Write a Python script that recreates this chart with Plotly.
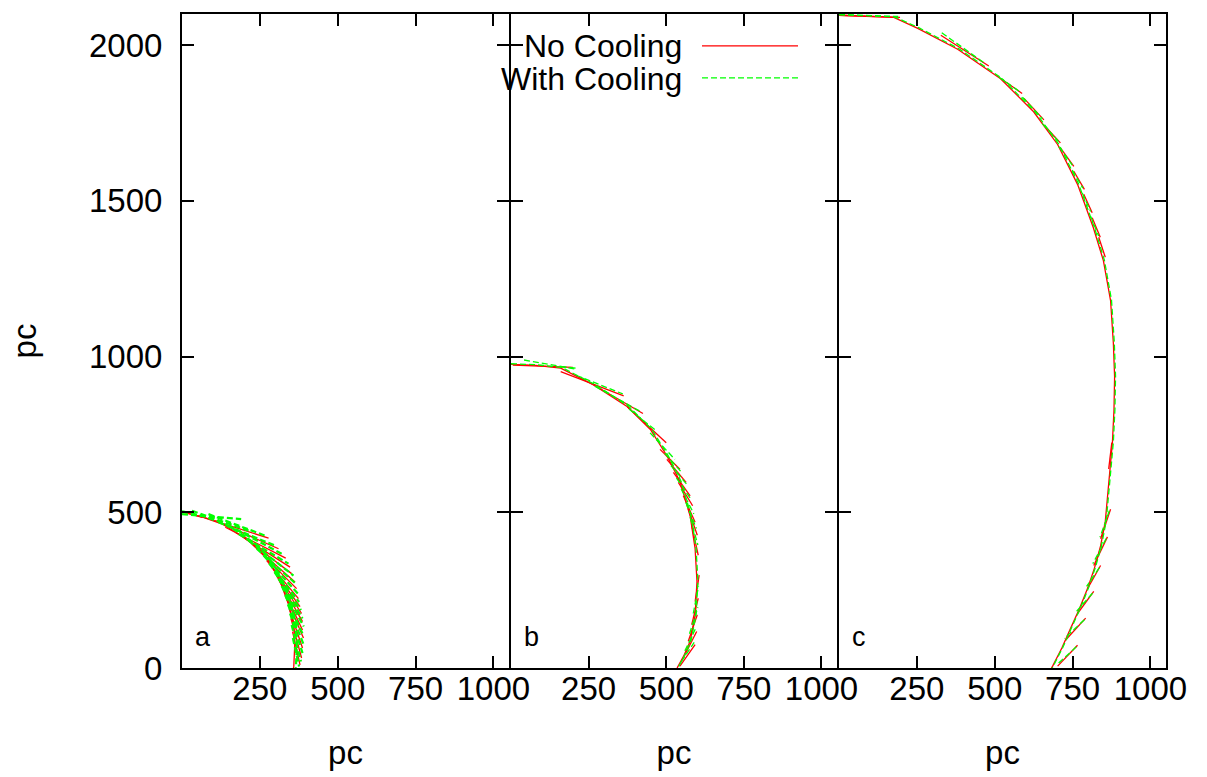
import plotly.graph_objects as go

# ---------------- data (pc) ----------------
x_ticks = [250, 500, 750, 1000]
y_ticks = [0, 500, 1000, 1500, 2000]
panel_labels = ["a", "b", "c"]
series_names = ["No Cooling", "With Cooling"]

# panel a : shell outline + fragments
a_red_arc_x = [0, 64, 128, 192, 247, 288, 320, 343, 359, 362, 359, 358]
a_red_arc_y = [501, 485, 463, 424, 383, 329, 265, 201, 137, 73, 6, 0]
a_grn_arc_x = [0, 66, 131, 196, 252, 294, 327, 350, 366, 369, 366, 365]
a_grn_arc_y = [503, 488, 466, 427, 386, 332, 268, 203, 139, 75, 8, 0]
a_red_seg = [(11, 500, 64, 484), (53, 489, 278, 417), (107, 473, 310, 383), (139, 452, 333, 353),
             (171, 436, 347, 324), (198, 420, 352, 303), (224, 398, 363, 276), (251, 372, 368, 255),
             (272, 345, 374, 223), (288, 324, 379, 197), (304, 297, 384, 175), (315, 276, 387, 149),
             (326, 250, 387, 122), (336, 223, 390, 96), (344, 191, 387, 64), (350, 159, 384, 32),
             (355, 117, 379, 10)]
a_grn_seg = [(0, 494, 190, 478), (32, 505, 214, 441), (85, 494, 267, 425), (117, 468, 299, 393),
             (150, 457, 320, 367), (182, 430, 342, 335), (214, 409, 358, 297), (240, 383, 365, 271),
             (262, 361, 372, 239), (280, 335, 376, 212), (297, 308, 382, 186), (310, 287, 387, 159),
             (320, 263, 391, 133), (331, 234, 389, 106), (340, 204, 391, 74), (347, 175, 387, 48),
             (352, 138, 382, 21), (356, 96, 376, 5)]

# panel b : shell outline + fragments
b_red_arc_x = [0, 80, 160, 266, 375, 449, 503, 545, 577, 593, 599, 593, 577, 556, 535]
b_red_arc_y = [975, 972, 963, 909, 839, 766, 680, 597, 488, 383, 278, 169, 86, 38, 0]
b_grn_arc_x = [0, 82, 163, 269, 378, 452, 506, 548, 580, 596, 602, 596, 580, 559, 538]
b_grn_arc_y = [977, 974, 965, 911, 841, 768, 682, 599, 490, 385, 280, 171, 88, 40, 0]
b_red_seg = [(6, 973, 199, 965), (160, 952, 363, 874), (256, 915, 425, 817), (374, 840, 500, 723),
             (480, 702, 544, 638), (502, 670, 564, 596), (523, 628, 577, 553), (539, 596, 585, 521),
             (555, 553, 593, 468), (571, 511, 600, 426), (582, 458, 603, 362), (544, 6, 593, 75),
             (555, 32, 598, 117), (571, 86, 600, 171), (582, 139, 603, 224), (593, 213, 606, 298)]
b_grn_seg = [(42, 989, 208, 960), (160, 968, 208, 963), (210, 940, 360, 880), (270, 905, 420, 822),
             (380, 832, 470, 760), (448, 755, 528, 670), (495, 690, 548, 630), (515, 650, 570, 585),
             (533, 610, 581, 540), (548, 575, 589, 495), (563, 532, 597, 448), (577, 485, 602, 395),
             (548, 20, 590, 82), (560, 55, 596, 130), (575, 110, 602, 195), (587, 175, 604, 262)]

# panel c : shell outline + fragments
c_red_arc_x = [0, 176, 253, 381, 519, 625, 702, 766, 817, 849, 872, 881, 885, 883, 878, 868,
               855, 840, 820, 798, 772, 744, 716, 686, 682]
c_red_arc_y = [2096, 2089, 2054, 1987, 1892, 1786, 1681, 1553, 1413, 1308, 1180, 1043, 935, 829,
               724, 620, 470, 392, 320, 255, 190, 128, 65, 6, 0]
c_grn_arc_x = [0, 178, 256, 384, 522, 628, 705, 769, 820, 852, 875, 884, 888, 886, 881, 871,
               858, 843, 823, 801, 775, 747, 719, 689, 685]
c_grn_arc_y = [2098, 2091, 2056, 1989, 1894, 1788, 1683, 1555, 1415, 1310, 1182, 1045, 937, 831,
               726, 622, 472, 394, 322, 257, 192, 130, 67, 8, 0]
c_red_seg = [(0, 2096, 196, 2089), (327, 2032, 481, 1933), (519, 1893, 588, 1845), (594, 1829, 658, 1760),
             (658, 1744, 711, 1686), (711, 1670, 754, 1611), (754, 1595, 788, 1537), (786, 1521, 813, 1462),
             (813, 1446, 839, 1383), (834, 1383, 855, 1319), (876, 724, 866, 639), (872, 510, 840, 415),
             (862, 421, 818, 329), (840, 329, 798, 255), (818, 246, 766, 175), (792, 160, 727, 89),
             (766, 73, 702, 6)]
c_grn_seg = [(0, 2098, 190, 2092), (330, 2040, 470, 1940), (514, 1897, 583, 1849), (589, 1833, 653, 1764),
             (653, 1748, 706, 1690), (706, 1674, 749, 1615), (749, 1599, 783, 1541), (781, 1525, 808, 1466),
             (808, 1450, 834, 1387), (868, 505, 838, 420), (858, 416, 815, 335), (836, 322, 795, 262),
             (814, 240, 763, 182), (788, 155, 724, 95), (762, 68, 699, 10)]

# ---------------- helpers ----------------
def seg_xy(arc_x, arc_y, segs):
    xs, ys = list(arc_x) + [None], list(arc_y) + [None]
    for x1, y1, x2, y2 in segs:
        xs += [x1, x2, None]
        ys += [y1, y2, None]
    return xs, ys

panels = [
    (a_red_arc_x, a_red_arc_y, a_red_seg, a_grn_arc_x, a_grn_arc_y, a_grn_seg),
    (b_red_arc_x, b_red_arc_y, b_red_seg, b_grn_arc_x, b_grn_arc_y, b_grn_seg),
    (c_red_arc_x, c_red_arc_y, c_red_seg, c_grn_arc_x, c_grn_arc_y, c_grn_seg),
]

W, H = 1207, 777
L, R, T, B = 182, 1166, 13, 669
pw = (R - L)
ph = (B - T)

fig = go.Figure()
FONT = "Liberation Sans, Arial, sans-serif"
FS = 33
RED = "#ff0000"
GRN = "#00ff00"

# pixel borders of the three panels (2px gap so shared frame lines coincide)
dom_px = [(182, 509), (511, 837), (839, 1166)]
for i, (rx, ry, rs, gx, gy, gs) in enumerate(panels):
    xa = "x" if i == 0 else f"x{i+1}"
    ya = "y" if i == 0 else f"y{i+1}"
    x, y = seg_xy(rx, ry, rs)
    fig.add_trace(go.Scatter(x=x, y=y, mode="lines", xaxis=xa, yaxis=ya,
                             line=dict(color=RED, width=1.3),
                             name=series_names[0], showlegend=False, hoverinfo="skip"))
    x, y = seg_xy(gx, gy, gs)
    fig.add_trace(go.Scatter(x=x, y=y, mode="lines", xaxis=xa, yaxis=ya,
                             line=dict(color=GRN, width=1.3 if i else 2.2, dash="6px,3px"),
                             name=series_names[1], showlegend=False, hoverinfo="skip"))

layout = dict(
    width=W, height=H, paper_bgcolor="white", plot_bgcolor="white",
    margin=dict(l=L, r=W - R, t=T, b=H - B, pad=0),
    font=dict(family=FONT, size=FS, color="black"),
    showlegend=False,
)
for i in range(3):
    d0 = (dom_px[i][0] - L) / pw
    d1 = (dom_px[i][1] - L) / pw
    xk = "xaxis" if i == 0 else f"xaxis{i+1}"
    yk = "yaxis" if i == 0 else f"yaxis{i+1}"
    layout[xk] = dict(domain=[d0, d1], range=[0, 1050], tickvals=x_ticks,
                      ticks="inside", ticklen=12, tickwidth=2, tickcolor="black",
                      showline=True, linewidth=2, linecolor="black", mirror="allticks",
                      showgrid=False, zeroline=False, anchor="y" if i == 0 else f"y{i+1}",
                      ticklabelstandoff=-10,
                      title=dict(text="pc", standoff=35, font=dict(size=FS)),
                      tickfont=dict(size=FS))
    layout[yk] = dict(domain=[0, 1], range=[0, 2100], tickvals=y_ticks,
                      ticks="inside", ticklen=12, tickwidth=2, tickcolor="black",
                      showline=True, linewidth=2, linecolor="black", mirror="allticks",
                      showgrid=False, zeroline=False, anchor="x" if i == 0 else f"x{i+1}",
                      showticklabels=(i == 0), tickfont=dict(size=FS), ticklabelstandoff=11,
                      title=dict(text="pc" if i == 0 else "", standoff=42, font=dict(size=FS)))
fig.update_layout(**layout)

def px_x(p):
    return (p - L) / pw

def px_y(p):
    return (B - p) / ph

# panel letters
for i, lab in enumerate(panel_labels):
    fig.add_annotation(x=px_x(dom_px[i][0] + 11), y=px_y(638), xref="paper", yref="paper",
                       text=lab, showarrow=False, xanchor="left", yanchor="middle",
                       font=dict(size=27))

# key (gnuplot style: label then sample)
KFS = 32
fig.add_annotation(x=px_x(683), y=px_y(45), xref="paper", yref="paper", text=series_names[0],
                   showarrow=False, xanchor="right", yanchor="middle", font=dict(size=KFS),
                   borderpad=0)
fig.add_annotation(x=px_x(683), y=px_y(78), xref="paper", yref="paper", text=series_names[1],
                   showarrow=False, xanchor="right", yanchor="middle", font=dict(size=KFS),
                   borderpad=0)
fig.add_shape(type="line", xref="paper", yref="paper", x0=px_x(702), x1=px_x(798),
              y0=px_y(45), y1=px_y(45), line=dict(color=RED, width=1.3))
fig.add_shape(type="line", xref="paper", yref="paper", x0=px_x(702), x1=px_x(798),
              y0=px_y(77), y1=px_y(77), line=dict(color=GRN, width=1.3, dash="6px,3px"))

fig.write_html("out.html")
